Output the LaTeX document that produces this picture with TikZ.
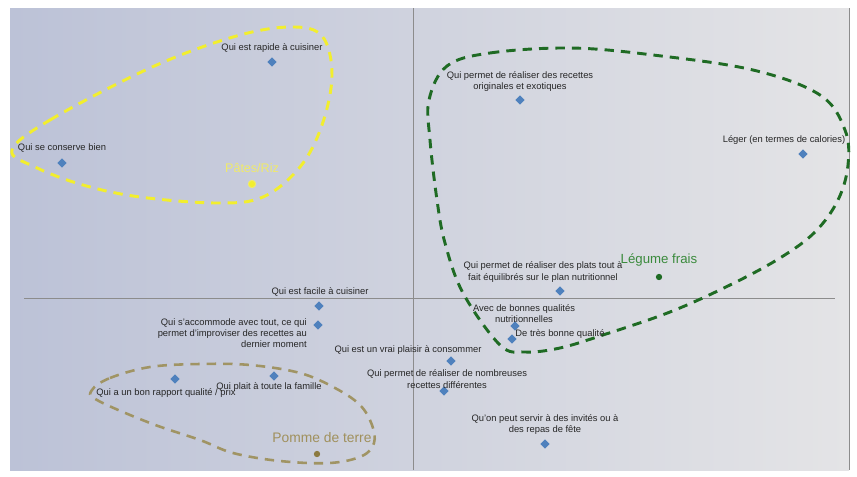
\documentclass[tikz,border=0pt]{standalone}
\usepackage{fontspec}
\setmainfont{Liberation Sans}
\usetikzlibrary{shapes.geometric}

\definecolor{pointblue}{HTML}{4F81BD}
\definecolor{bgleft}{HTML}{BCC2D7}
\definecolor{bgright}{HTML}{E4E4E6}
\definecolor{pastayellow}{HTML}{F2EE2E}
\definecolor{pastatext}{HTML}{F0EA6A}
\definecolor{veggreen}{HTML}{1F6B24}
\definecolor{vegtext}{HTML}{3A8A3C}
\definecolor{potatoline}{HTML}{A09464}
\definecolor{potatotext}{HTML}{A0905C}
\definecolor{potatodot}{HTML}{8C7A40}

\begin{document}
\begin{tikzpicture}[x=0.03cm,y=-0.03cm,
  item/.style={diamond,fill=pointblue,inner sep=0pt,minimum size=0.28cm},
  itemlabel/.style={font=\fontsize{8}{9.6}\selectfont,text=black!85,align=center,inner sep=0pt},
  groupdot/.style={circle,inner sep=0pt,minimum size=0.22cm},
  grouplabel/.style={font=\fontsize{11}{13}\selectfont,inner sep=0pt},
  groupline/.style={line width=2.5pt,dash pattern=on 8pt off 6pt}]
\useasboundingbox (0,0) rectangle (857,477);
% background and axes
\shade[left color=bgleft,right color=bgright] (10,8) rectangle (849,470);
\draw[black!45] (849,8) -- (849,470);
\coordinate (ytop) at (413,8);
\coordinate (ybot) at (413,470);
\coordinate (xleft) at (24,298);
\coordinate (xright) at (835,298);
\draw[black!45,line width=0.4pt] (ytop) -- (ybot);
\draw[black!45,line width=0.4pt] (xleft) -- (xright);

% groups
\draw[groupline,pastayellow] plot[smooth cycle,tension=0.6] coordinates {(12,150) (50,120) (150,68) (233,37) (290,27) (322,36) (332,75) (322,125) (300,167) (263,197) (217,203) (140,197) (83,185) (35,167)};
\draw[groupline,veggreen] plot[smooth cycle,tension=0.6] coordinates {(447,66) (490,53) (570,48) (653,55) (753,70) (820,95) (845,130) (848,165) (838,200) (815,232) (780,258) (730,285) (670,312) (603,335) (560,348) (525,352) (500,345) (463,293) (445,243) (437,200) (430,140) (429,100)};
\draw[groupline,potatoline,line width=2.2pt] plot[smooth cycle,tension=0.6] coordinates {(92,390) (110,378) (150,367) (200,364) (250,365) (300,373) (335,388) (360,405) (372,425) (374,443) (362,456) (330,463) (280,461) (233,453) (200,440) (150,423) (97,400)};

\node[groupdot,fill=pastayellow,draw=pastatext,line width=0.8pt] (pates) at (252,184) {};
\node[grouplabel,text=pastatext,font=\fontsize{10.7}{13}\selectfont] (pates_l) at (252,168) {Pâtes/Riz};
\node[groupdot,fill=veggreen,minimum size=0.19cm] (legume) at (659,277) {};
\node[grouplabel,text=vegtext,font=\fontsize{11.3}{13}\selectfont] (legume_l) at (659,260) {Légume frais};
\node[groupdot,fill=potatodot,minimum size=0.19cm] (pomme) at (317,454) {};
\node[grouplabel,text=potatotext,font=\fontsize{11.8}{13}\selectfont] (pomme_l) at (322,438) {Pomme de terre};

% attributes
\node[item] (rapide) at (272,62) {};
\node[itemlabel] (rapide_l) at (272,48) {Qui est rapide à cuisiner};
\node[item] (conserve) at (62,163) {};
\node[itemlabel] (conserve_l) at (62,148) {Qui se conserve bien};
\node[item] (exotique) at (520,100) {};
\node[itemlabel] (exotique_l) at (520,81.5) {Qui permet de réaliser des recettes\\originales et exotiques};
\node[item] (leger) at (803,154) {};
\node[itemlabel] (leger_l) at (784,140) {Léger (en termes de calories)};
\node[item] (plats) at (560,291) {};
\node[itemlabel] (plats_l) at (543,272) {Qui permet de réaliser des plats tout à\\fait équilibrés sur le plan nutritionnel};
\node[item] (nutri) at (515,326) {};
\node[itemlabel] (nutri_l) at (524,313.5) {Avec de bonnes qualités\\nutritionnelles};
\node[item] (qualite) at (512,339) {};
\node[itemlabel] (qualite_l) at (560,334) {De très bonne qualité};
\node[item] (plaisir) at (451,361) {};
\node[itemlabel] (plaisir_l) at (408,350) {Qui est un vrai plaisir à consommer};
\node[item] (nombreuses) at (444,391) {};
\node[itemlabel] (nombreuses_l) at (447,379) {Qui permet de réaliser de nombreuses\\recettes différentes};
\node[item] (invites) at (545,444) {};
\node[itemlabel] (invites_l) at (545,424.5) {Qu'on peut servir à des invités ou à\\des repas de fête};
\node[item] (facile) at (319,306) {};
\node[itemlabel] (facile_l) at (320,292) {Qui est facile à cuisiner};
\node[item] (accommode) at (318,325) {};
\node[itemlabel,align=right,anchor=east] (accommode_l) at (307,333) {Qui s'accommode avec tout, ce qui\\permet d'improviser des recettes au\\dernier moment};
\node[item] (rapport) at (175,379) {};
\node[itemlabel] (rapport_l) at (166,393) {Qui a un bon rapport qualité / prix};
\node[item] (famille) at (274,376) {};
\node[itemlabel] (famille_l) at (269,387) {Qui plait à toute la famille};
\end{tikzpicture}
\end{document}
